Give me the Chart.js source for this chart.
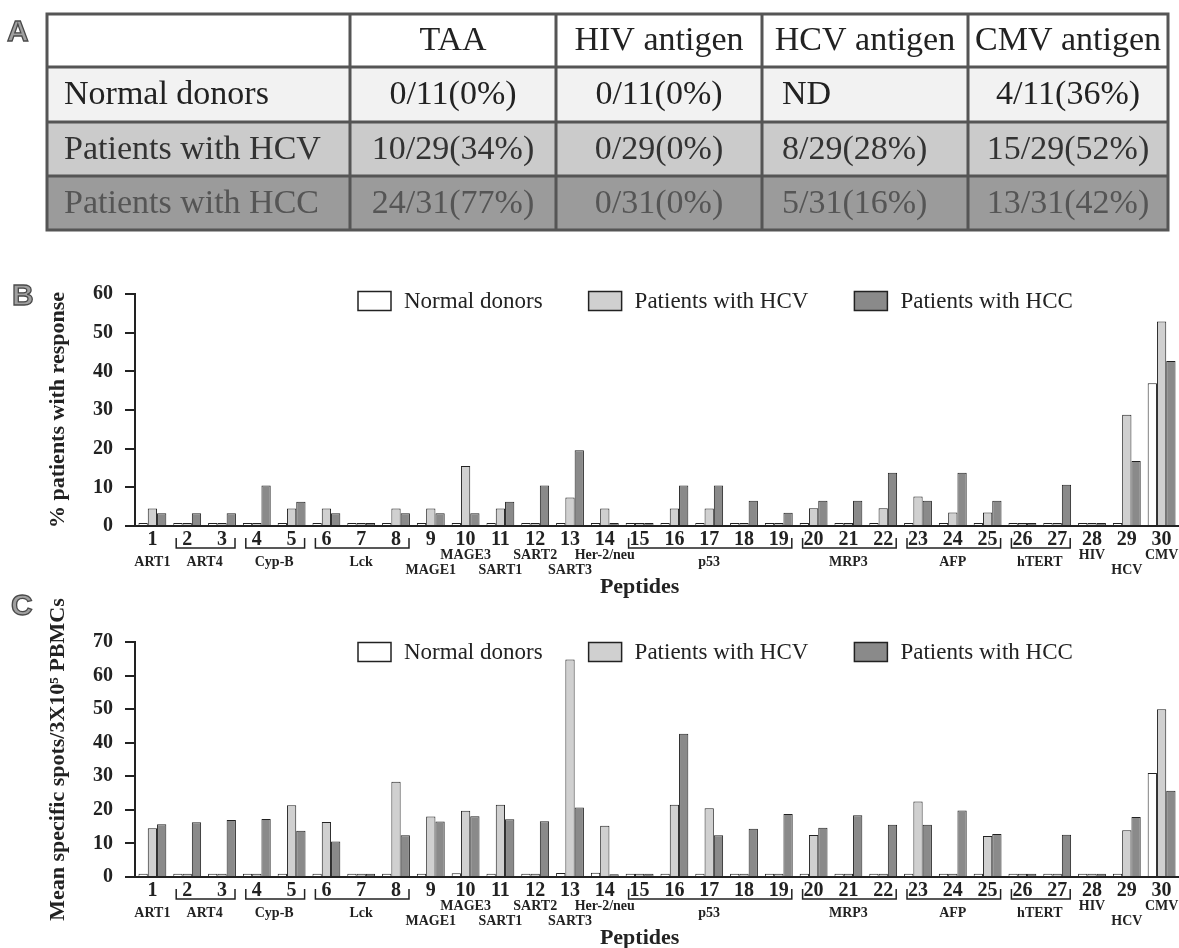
<!DOCTYPE html>
<html>
<head>
<meta charset="utf-8">
<script src="https://cdn.jsdelivr.net/npm/chart.js@4.4.1/dist/chart.umd.min.js"></script>
<style>
  body { margin: 0; background: #fff; width: 1179px; height: 948px; position: relative; overflow: hidden; }
  .panel { position: absolute; font-family: "Liberation Sans", Arial, sans-serif; font-weight: bold;
           font-size: 30px; line-height: 1; color: #a0a0a0; -webkit-text-stroke: 1.3px #4a4a4a; }
  .wrap { position: absolute; left: 0; width: 1179px; }
</style>
</head>
<body>
<div class="wrap" style="top:0;height:240px"><canvas id="tableA" width="1179" height="240"></canvas></div>
<div class="wrap" style="top:270px;height:330px"><canvas id="chartB" width="1179" height="330"></canvas></div>
<div class="wrap" style="top:575px;height:373px"><canvas id="chartC" width="1179" height="373"></canvas></div>
<div class="panel" style="left:7px;top:16px">A</div>
<div class="panel" style="left:12px;top:280px">B</div>
<div class="panel" style="left:11px;top:590px">C</div>
<script>
// ---- table (panel A) ----
const antigenCols = ['TAA', 'HIV antigen', 'HCV antigen', 'CMV antigen'];
const groupRows = ['Normal donors', 'Patients with HCV', 'Patients with HCC'];
const normalCells = ['0/11(0%)', '0/11(0%)', 'ND', '4/11(36%)'];
const hcvCells = ['10/29(34%)', '0/29(0%)', '8/29(28%)', '15/29(52%)'];
const hccCells = ['24/31(77%)', '0/31(0%)', '5/31(16%)', '13/31(42%)'];

// ---- bar charts (panels B and C) ----
const peptides = ['1','2','3','4','5','6','7','8','9','10','11','12','13','14','15',
                  '16','17','18','19','20','21','22','23','24','25','26','27','28','29','30'];
const groupNames = ['ART1','ART4','Cyp-B','Lck','MAGE1','MAGE3','SART1','SART2','SART3','Her-2/neu',
                    'p53','MRP3','AFP','hTERT','HIV','HCV','CMV'];
const groupFirst = [1, 2, 4, 6, 9, 10, 11, 12, 13, 14, 15, 20, 23, 26, 28, 29, 30];
const groupLast  = [1, 3, 5, 8, 9, 10, 11, 12, 13, 14, 19, 22, 25, 27, 28, 29, 30];

// % patients with response
const respNormal = [0.8,0.8,0.8,0.8,0.8,0.8,0.8,0.8,0.8,0.8,0.8,0.8,0.8,0.8,0.8,
                    0.8,0.8,0.8,0.8,0.8,0.8,0.8,0.8,0.8,0.8,0.8,0.8,0.8,0.8,36.9];
const respHCV = [4.5,0.8,0.8,0.8,4.5,4.5,0.8,4.5,4.5,15.5,4.5,0.8,7.4,4.5,0.8,
                 4.5,4.5,0.8,0.8,4.6,0.8,4.6,7.6,3.5,3.5,0.8,0.8,0.8,28.8,52.9];
const respHCC = [3.3,3.3,3.3,10.5,6.3,3.3,0.8,3.3,3.3,3.3,6.3,10.5,19.6,0.8,0.8,
                 10.5,10.5,6.5,3.4,6.5,6.5,13.8,6.5,13.8,6.5,0.8,10.7,0.8,16.8,42.7];

// mean specific spots / 3x10^5 PBMCs
const spotsNormal = [1,1,1,1,1,1,1,1,1,1.1,1,1,1.2,1.3,1,
                     1,1,1,1,1,1,1,1,1,1,1,1,1,1,31.0];
const spotsHCV = [14.5,1,1,1,21.4,16.4,1,28.4,18.0,19.7,21.5,1,64.8,15.3,1,
                  21.5,20.5,1,1,12.5,1,1,22.5,1,12.2,1,1,1,13.9,50.0];
const spotsHCC = [15.7,16.3,17.0,17.3,13.8,10.6,1,12.4,16.5,18.1,17.2,16.6,20.7,0.8,1,
                  42.7,12.4,14.4,18.8,14.7,18.4,15.6,15.6,19.8,12.8,1,12.6,1,17.9,25.7];

const seriesNames = ['Normal donors', 'Patients with HCV', 'Patients with HCC'];
const seriesColors = ['#ffffff', '#d0d0d0', '#8a8a8a'];

const FONT = "'Liberation Serif', 'Times New Roman', serif";
const INK = '#222';

// draw the table
(function () {
    const ctx = document.getElementById('tableA').getContext('2d');
    const colX = [47, 350, 556, 762, 968, 1168];
    const rowY = [14, 67, 122, 176, 230];
    const rowBg = ['#ffffff', '#f2f2f2', '#cbcbcb', '#9b9b9b'];
    const rowInk = ['#222', '#222', '#333', '#555'];
    const rows = [[''].concat(antigenCols),
                  [groupRows[0]].concat(normalCells),
                  [groupRows[1]].concat(hcvCells),
                  [groupRows[2]].concat(hccCells)];
    ctx.font = '34px ' + FONT;
    ctx.textBaseline = 'middle';
    rows.forEach(function (row, r) {
        ctx.fillStyle = rowBg[r];
        ctx.fillRect(colX[0], rowY[r], colX[5] - colX[0], rowY[r + 1] - rowY[r]);
        ctx.fillStyle = rowInk[r];
        const yc = (rowY[r] + rowY[r + 1]) / 2 + 1;
        row.forEach(function (txt, c) {
            if (c === 0 || (c === 3 && r > 0)) {
                ctx.textAlign = 'left';
                ctx.fillText(txt, colX[c] + (c === 0 ? 17 : 20), yc);
            } else {
                ctx.textAlign = 'center';
                ctx.fillText(txt, (colX[c] + colX[c + 1]) / 2, yc);
            }
        });
    });
    ctx.strokeStyle = '#555';
    ctx.lineWidth = 3;
    ctx.beginPath();
    rowY.forEach(function (y) { ctx.moveTo(colX[0] - 1.5, y); ctx.lineTo(colX[5] + 1.5, y); });
    colX.forEach(function (x) { ctx.moveTo(x, rowY[0]); ctx.lineTo(x, rowY[4]); });
    ctx.stroke();
})();

const raised = ['MAGE3', 'SART2', 'Her-2/neu', 'HIV', 'CMV'];
const lowered = ['MAGE1', 'SART1', 'SART3', 'HCV'];

const insideLegend = {
    id: 'insideLegend',
    afterDraw: function (chart, args, o) {
        const ctx = chart.ctx;
        ctx.save();
        ctx.font = '23px ' + FONT;
        ctx.textBaseline = 'middle';
        let x = o.x;
        chart.data.datasets.forEach(function (ds) {
            ctx.fillStyle = ds.backgroundColor;
            ctx.fillRect(x, o.y - 9.5, 33, 19);
            ctx.strokeStyle = INK;
            ctx.lineWidth = 1.5;
            ctx.strokeRect(x, o.y - 9.5, 33, 19);
            ctx.fillStyle = INK;
            ctx.fillText(ds.label, x + 46, o.y + 1);
            x += 46 + ctx.measureText(ds.label).width + 46;
        });
        ctx.restore();
    }
};

const peptideGroups = {
    id: 'peptideGroups',
    afterDraw: function (chart) {
        const xs = chart.scales.x, b = chart.chartArea.bottom, ctx = chart.ctx;
        ctx.save();
        ctx.strokeStyle = INK;
        ctx.lineWidth = 1.5;
        ctx.fillStyle = INK;
        ctx.textAlign = 'center';
        ctx.textBaseline = 'middle';
        ctx.font = 'bold 14px ' + FONT;
        groupNames.forEach(function (name, i) {
            const x0 = xs.getPixelForValue(groupFirst[i] - 1);
            const x1 = xs.getPixelForValue(groupLast[i] - 1);
            if (groupLast[i] > groupFirst[i]) {
                ctx.beginPath();
                ctx.moveTo(x0 - 11, b + 12);
                ctx.lineTo(x0 - 11, b + 22);
                ctx.lineTo(x1 + 13, b + 22);
                ctx.lineTo(x1 + 13, b + 12);
                ctx.stroke();
            }
            let dy = 36;
            if (raised.includes(name)) dy = 29;
            if (lowered.includes(name)) dy = 44;
            ctx.fillText(name, (x0 + x1) / 2, b + dy);
        });
        ctx.font = 'bold 22px ' + FONT;
        ctx.fillText('Peptides', xs.getPixelForValue(14), b + 61);
        ctx.restore();
    }
};

function makeChart(id, values, yMax, yTitle, titleSize, topPad, xHeight, legendY) {
    return new Chart(document.getElementById(id), {
        type: 'bar',
        data: {
            labels: peptides,
            datasets: values.map(function (v, i) {
                return {
                    label: seriesNames[i],
                    data: v,
                    backgroundColor: seriesColors[i],
                    borderColor: INK,
                    borderWidth: 1,
                    categoryPercentage: 0.8,
                    barPercentage: 1.0
                };
            })
        },
        options: {
            responsive: false,
            animation: false,
            layout: { padding: { top: topPad, left: 0, right: 0, bottom: 0 } },
            plugins: {
                legend: { display: false },
                tooltip: { enabled: false },
                insideLegend: { x: 358, y: legendY }
            },
            scales: {
                x: {
                    grid: { display: false, drawTicks: false },
                    border: { color: INK, width: 2 },
                    ticks: { autoSkip: false, maxRotation: 0, padding: 2, color: INK,
                             font: { family: FONT, size: 20, weight: 'bold' } },
                    afterFit: function (s) { s.height = xHeight; }
                },
                y: {
                    min: 0, max: yMax,
                    ticks: { stepSize: 10, padding: 12, color: INK,
                             font: { family: FONT, size: 20, weight: 'bold' } },
                    grid: { drawOnChartArea: false, drawTicks: true, tickLength: 10, color: INK, lineWidth: 2 },
                    border: { color: INK, width: 2 },
                    title: { display: true, text: yTitle, color: INK,
                             font: { family: FONT, size: titleSize, weight: 'bold' },
                             padding: { top: 58 - titleSize * 0.6, bottom: 0 } },
                    afterFit: function (s) { s.width = 135; }
                }
            }
        },
        plugins: [insideLegend, peptideGroups]
    });
}

makeChart('chartB', [respNormal, respHCV, respHCC], 60, '% patients with response', 22, 20, 74, 31);
makeChart('chartC', [spotsNormal, spotsHCV, spotsHCC], 70, 'Mean specific spots/3X10\u2075 PBMCs', 22, 67, 71, 77);
</script>
</body>
</html>
